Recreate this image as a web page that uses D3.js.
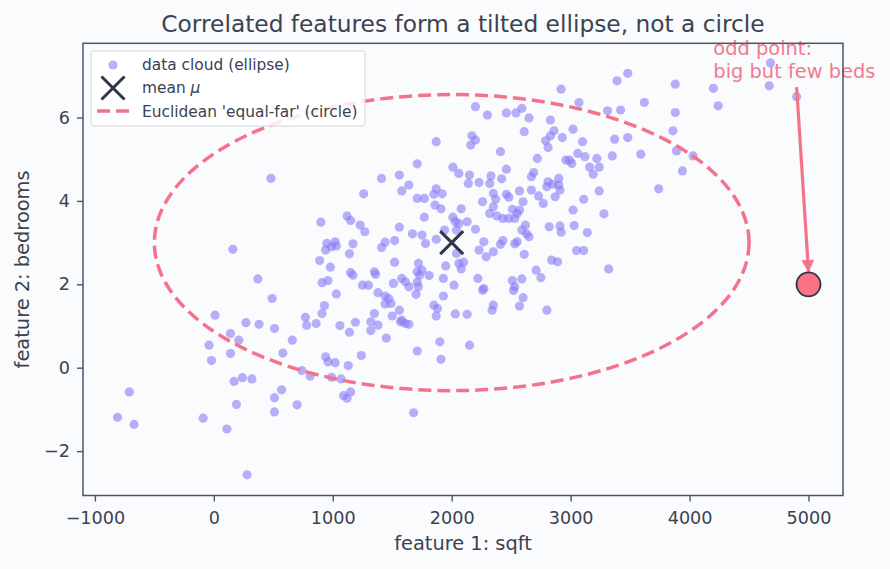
<!DOCTYPE html>
<html>
<head>
<meta charset="utf-8">
<script src="https://cdn.jsdelivr.net/npm/d3@7"></script>
<style>
  body { margin: 0; background: #fafbfd; }
  svg { display: block; font-family: "DejaVu Sans", sans-serif; }
</style>
</head>
<body>
<div id="chart"></div>
<script>
// data cloud
const sqft = [
  480, 900, 160, 890, 980, 370, 910, 960, 490, 930,
  10, 270, 380, 510, 770, 780, 860, 910, 140, 210,
  -40, 660, 140, -20, 580, 940, 960, 740, 810, 990,
  170, 240, 320, 570, 510, -710, -810, -670, -90, 190,
  700, 510, 110, 280,
  2200, 2300, 2460, 2540, 2170, 2200, 2160, 1870, 2410, 1710,
  2010, 2060, 2150, 2140, 2230, 2330, 2320, 2420, 2460, 1410,
  1560, 1640, 1580, 1260, 1870, 1850, 1920, 1710, 1770, 1860,
  1910, 2260, 2350, 2370, 2460, 2480, 2350, 2510, 2550, 2530,
  2320, 2380, 2430, 2480, 2080, 1770, 2010, 2030, 2060, 2130,
  1120, 1150, 1230, 1270, 1560, 1670, 1750, 1780, 1870, 1940,
  2040, 2200, 2270, 2430, 2410, 2350, 2290, 2230, 2550, 2530,
  2040, 2060, 2100, 2080, 1950, 1810, 1930, 2020, 2220, 2270,
  2510, 2530, 950, 990, 1020, 1030, 940, 1170, 1140, 1410,
  1440, 1520, 1520, 1720, 1710, 1730, 1750, 1350, 1360, 1150,
  1170, 1250, 1300, 1510, 1580, 1610, 1640, 1710, 1720, 2260,
  2520, 1030, 1380, 1440, 1470, 1490, 1440, 1700, 1930, 1560,
  1580, 1610, 1640, 1570, 1500, 1350, 1320, 1380, 1320, 1850,
  1880, 1870, 2030, 2130, 2350, 2340, 2570, 1060, 1190, 1140,
  1450, 1900, 1710, 1910, 2150, 1240, 1020, 1130, 1070, 1090,
  1120, 1150, 1680,
  3480, 3390, 3880, 2920, 3620, 3070, 3310, 3420, 3880, 2590,
  2650, 2830, 2610, 3020, 2860, 2830, 2790, 2810, 2930, 3100,
  3370, 3480, 3860, 3890, 4030, 3940, 3590, 3350, 3060, 3120,
  2960, 2990, 3010, 3220, 3160, 3190, 3240, 2720, 2690, 2670,
  2810, 2800, 2850, 2900, 2900, 2910, 2870, 2670, 2730, 2770,
  2570, 2600, 3240, 3740, 3110, 3020, 3280, 2570, 2620, 2590,
  2630, 2650, 2820, 2910, 2920, 3030, 3140, 2610, 3050, 3110,
  2840, 2890, 3320, 2710, 2590, 2750, 2600, 2800,
  4680, 4670, 4900, 4200, 4240
];
const beds = [
  4.54, 3.49, 2.84, 2.57, 2.41, 2.13, 2.04, 2.09, 1.66, 1.49,
  1.26, 1.08, 1.04, 0.94, 1.21, 1.02, 1.06, 1.30, 0.82, 0.66,
  0.54, 0.66, 0.34, 0.17, 0.35, 0.26, 0.14, -0.07, -0.20, -0.23,
  -0.33, -0.24, -0.27, -0.53, -0.72, -0.58, -1.19, -1.36, -1.21, -0.88,
  -0.89, -1.06, -1.47, -2.57,
  6.26, 6.06, 6.11, 6.11, 5.56, 5.46, 5.34, 5.42, 5.18, 4.89,
  4.81, 4.66, 4.62, 4.42, 4.44, 4.60, 4.42, 4.53, 4.76, 4.54,
  4.62, 4.38, 4.24, 4.17, 4.29, 4.16, 4.17, 4.06, 4.06, 3.90,
  3.81, 3.98, 4.18, 4.04, 4.16, 4.09, 3.86, 3.80, 3.70, 3.58,
  3.70, 3.64, 3.58, 3.58, 3.81, 3.61, 3.61, 3.50, 3.46, 3.50,
  3.64, 3.53, 3.42, 3.26, 3.37, 3.21, 3.18, 2.98, 3.08, 3.30,
  3.30, 3.32, 3.02, 3.05, 2.96, 2.78, 2.66, 2.82, 3.02, 2.97,
  2.74, 2.50, 2.53, 2.37, 2.44, 2.21, 2.14, 1.98, 2.14, 1.90,
  2.09, 1.94, 2.98, 2.90, 3.02, 2.92, 2.82, 2.97, 2.73, 2.88,
  3.01, 3.05, 2.53, 2.50, 2.30, 2.22, 2.34, 2.30, 2.24, 2.28,
  2.22, 1.98, 1.98, 2.02, 2.14, 2.06, 1.94, 2.05, 1.94, 1.86,
  1.85, 1.77, 1.80, 1.72, 1.66, 1.54, 1.53, 1.76, 1.72, 1.38,
  1.14, 1.06, 1.04, 1.10, 1.24, 1.30, 1.10, 1.02, 0.89, 1.50,
  1.42, 1.24, 1.29, 1.28, 1.50, 1.38, 1.48, 1.01, 1.09, 0.85,
  0.71, 0.62, 0.40, 0.20, 0.54, 0.29, 0.12, 0.05, -0.27, -0.67,
  -0.73, -0.58, -1.08,
  7.06, 6.88, 6.80, 6.68, 6.36, 6.36, 6.16, 6.18, 6.12, 6.22,
  5.99, 5.94, 5.66, 5.72, 5.68, 5.56, 5.44, 5.28, 5.52, 5.42,
  5.48, 5.52, 5.68, 5.20, 5.08, 4.72, 5.12, 5.08, 5.14, 5.06,
  4.98, 4.98, 4.90, 5.02, 4.81, 4.64, 4.81, 5.02, 4.68, 4.58,
  4.46, 4.34, 4.40, 4.54, 4.38, 4.26, 4.10, 4.26, 4.12, 3.94,
  4.24, 3.98, 4.24, 4.29, 4.04, 3.78, 3.69, 3.78, 3.42, 3.30,
  3.21, 3.14, 3.38, 3.40, 3.25, 3.41, 3.24, 2.72, 2.81, 2.81,
  2.58, 2.54, 2.37, 2.34, 2.13, 2.16, 1.68, 1.38,
  7.31, 6.76, 6.50, 6.70, 6.28
];

const meanPt = [2000, 3];
const circleR = [2500, 3.55];     // dashed "equal-far" curve radii in data units
const oddPt = [5000, 2];
const arrowFrom = [4900, 6.73];
const oddLabelAt = [4200, 7.51];
const oddLabel = ["odd point:", "big but few beds"];

const xTicks = [-1000, 0, 1000, 2000, 3000, 4000, 5000];
const yTicks = [-2, 0, 2, 4, 6];
const xDomain = [-1100, 5290];
const yDomain = [-3.065, 7.78];

const legendItems = ["data cloud (ellipse)", "mean ", "Euclidean 'equal-far' (circle)"];

const width = 890, height = 569;
const margin = {top: 43.3, right: 47, bottom: 73.5, left: 83};

const ink = "#3b4251", spine = "#4a5568";
const dotColor = "#8b7cf6", rose = "#f4738a";
const dash = "13,6";

const svg = d3.select("#chart").append("svg")
  .attr("width", width).attr("height", height)
  .style("background", "#fafbfd");

const x = d3.scaleLinear().domain(xDomain).range([margin.left, width - margin.right]);
const y = d3.scaleLinear().domain(yDomain).range([height - margin.bottom, margin.top]);

// title
svg.append("text")
  .attr("x", (x.range()[0] + x.range()[1]) / 2).attr("y", 32)
  .attr("text-anchor", "middle").attr("font-size", 23.3).attr("fill", ink)
  .text("Correlated features form a tilted ellipse, not a circle");

// axes
const xAxis = svg.append("g")
  .attr("transform", `translate(0,${y.range()[0]})`)
  .call(d3.axisBottom(x).tickValues(xTicks).tickSize(6).tickPadding(10).tickFormat(d3.format("d")));
const yAxis = svg.append("g")
  .attr("transform", `translate(${x.range()[0]},0)`)
  .call(d3.axisLeft(y).tickValues(yTicks).tickSize(6).tickPadding(7).tickFormat(d3.format("d")));

[xAxis, yAxis].forEach(g => {
  g.select(".domain").remove();
  g.selectAll("line").attr("stroke", spine).attr("stroke-width", 1.4);
  g.selectAll("text").attr("fill", ink).attr("font-size", 17.6)
    .attr("font-family", "DejaVu Sans, sans-serif");
});

svg.append("text")
  .attr("x", (x.range()[0] + x.range()[1]) / 2).attr("y", 550)
  .attr("text-anchor", "middle").attr("font-size", 19.4).attr("fill", ink)
  .text("feature 1: sqft");
svg.append("text")
  .attr("transform", `translate(29,${(y.range()[0] + y.range()[1]) / 2}) rotate(-90)`)
  .attr("text-anchor", "middle").attr("font-size", 19.4).attr("fill", ink)
  .text("feature 2: bedrooms");

// data cloud
const pts = d3.zip(sqft, beds);
svg.append("g").selectAll("circle")
  .data(pts).join("circle")
  .attr("cx", d => x(d[0])).attr("cy", d => y(d[1]))
  .attr("r", 4.6)
  .attr("fill", dotColor).attr("fill-opacity", 0.6);

// dashed "circle" round the mean
svg.append("ellipse")
  .attr("cx", x(meanPt[0])).attr("cy", y(meanPt[1]))
  .attr("rx", x(meanPt[0] + circleR[0]) - x(meanPt[0]))
  .attr("ry", y(meanPt[1]) - y(meanPt[1] + circleR[1]))
  .attr("fill", "none").attr("stroke", rose)
  .attr("stroke-width", 3.5).attr("stroke-dasharray", dash);

// mean marker
function cross(g, cx, cy, s) {
  g.append("path")
    .attr("d", `M${cx - s},${cy - s}L${cx + s},${cy + s}M${cx - s},${cy + s}L${cx + s},${cy - s}`)
    .attr("stroke", "#2d3748").attr("stroke-width", 3).attr("fill", "none");
}
cross(svg, x(meanPt[0]), y(meanPt[1]), 11.5);

// arrow + odd point
svg.append("defs").append("marker")
  .attr("id", "head").attr("viewBox", "0 0 10 10")
  .attr("refX", 9).attr("refY", 5)
  .attr("markerWidth", 4).attr("markerHeight", 4)
  .attr("orient", "auto")
  .append("path").attr("d", "M0,0L10,5L0,10z").attr("fill", rose);

svg.append("line")
  .attr("x1", x(arrowFrom[0])).attr("y1", y(arrowFrom[1]))
  .attr("x2", x(oddPt[0])).attr("y2", y(oddPt[1]) - 13)
  .attr("stroke", rose).attr("stroke-width", 3.2)
  .attr("marker-end", "url(#head)");

svg.append("circle")
  .attr("cx", x(oddPt[0])).attr("cy", y(oddPt[1])).attr("r", 12)
  .attr("fill", "#fb7185").attr("stroke", "#2d3748").attr("stroke-width", 1.8);

svg.append("text")
  .attr("x", x(oddLabelAt[0])).attr("y", y(oddLabelAt[1]))
  .attr("font-size", 19.4).attr("fill", "#f27a8e")
  .selectAll("tspan").data(oddLabel).join("tspan")
  .attr("x", x(oddLabelAt[0])).attr("dy", (d, i) => i ? 23.3 : 0)
  .text(d => d);

// frame
svg.append("rect")
  .attr("x", x.range()[0]).attr("y", y.range()[1])
  .attr("width", x.range()[1] - x.range()[0]).attr("height", y.range()[0] - y.range()[1])
  .attr("fill", "none").attr("stroke", spine).attr("stroke-width", 1.5);

// legend
const lg = svg.append("g").attr("transform", "translate(91,51)");
lg.append("rect").attr("width", 274).attr("height", 75).attr("rx", 3)
  .attr("fill", "#ffffff").attr("fill-opacity", 0.85)
  .attr("stroke", "#d4d6db").attr("stroke-width", 1);
lg.append("circle").attr("cx", 22).attr("cy", 14).attr("r", 4.6)
  .attr("fill", dotColor).attr("fill-opacity", 0.6);
cross(lg, 22, 37, 11.5);
lg.append("line").attr("x1", 6).attr("x2", 38).attr("y1", 60).attr("y2", 60)
  .attr("stroke", rose).attr("stroke-width", 3.5).attr("stroke-dasharray", dash);
lg.selectAll("text.item").data(legendItems).join("text")
  .attr("class", "item")
  .attr("x", 51).attr("y", (d, i) => 18.5 + i * 23.5)
  .attr("font-size", 15.4).attr("fill", ink)
  .text(d => d)
  .filter((d, i) => i === 1)
  .append("tspan").attr("font-style", "italic").text("μ");
</script>
</body>
</html>
